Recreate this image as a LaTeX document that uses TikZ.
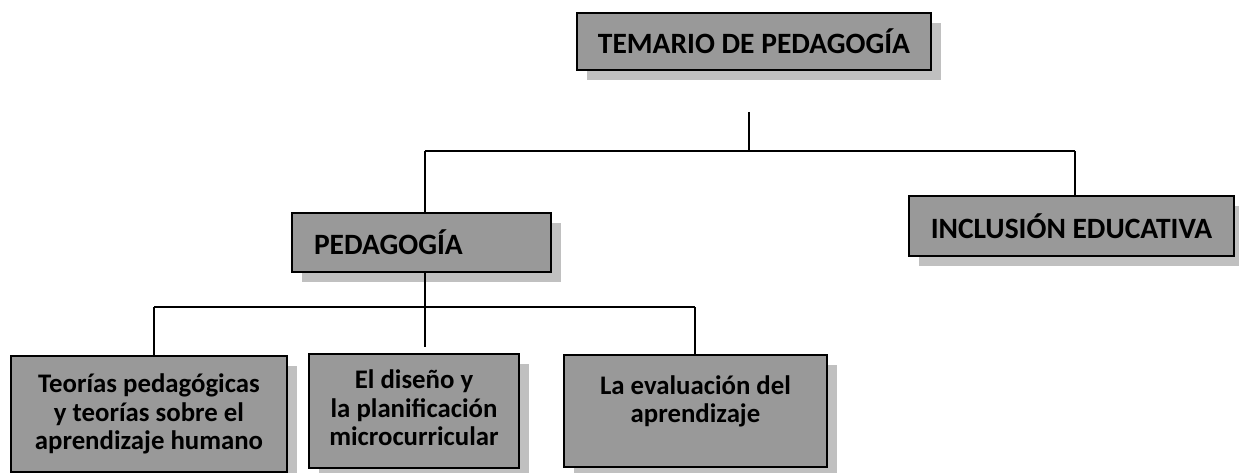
\documentclass[tikz,border=0pt]{standalone}
\usepackage{fontspec}
\setmainfont{Carlito}
\usetikzlibrary{shadows}
\definecolor{boxfill}{RGB}{153,153,153}
\definecolor{shadowgray}{RGB}{192,192,192}
\tikzset{
  box/.style={draw=black, line width=2pt, fill=boxfill, inner sep=0pt,
    general shadow={fill=shadowgray, shadow xshift=10pt, shadow yshift=-10pt},
    font=\bfseries},
  head/.style={box, font=\fontsize{29.5}{34}\selectfont\bfseries},
  leaf/.style={box, align=center, font=\fontsize{26.8}{28.5}\selectfont\bfseries},
  link/.style={draw=black, line width=2pt}
}
\begin{document}
\begin{tikzpicture}[x=1pt,y=-1pt]
\useasboundingbox (0,0) rectangle (1239,473);
\clip (0,0) rectangle (1239,473);
\fill[white] (0,0) rectangle (1239,473);

\node[head, minimum width=354pt, minimum height=57pt] (top) at (754,41.5) {TEMARIO DE PEDAGOGÍA};
\node[head, minimum height=59pt, text width=215pt, align=left, inner xsep=22pt] (ped) at (421.5,242.5) {PEDAGOGÍA};
\node[head, minimum width=325pt, minimum height=60pt] (inc) at (1071.5,226) {INCLUSIÓN EDUCATIVA};

\node[leaf, minimum width=276pt, minimum height=116pt] (b1) at (149,414) {Teorías pedagógicas\\ y teorías sobre el\\ aprendizaje humano};
\node[leaf, minimum width=210pt, minimum height=114pt] (b2) at (414,411) {El diseño y\\ la planificación\\ microcurricular\rule[-6pt]{0pt}{0pt}};
\node[leaf, minimum width=263pt, minimum height=112pt] (b3) at (695.5,411) {La evaluación del\\ aprendizaje\rule[-24pt]{0pt}{0pt}};

\coordinate (t0) at (749,112);
\coordinate (t1) at (749,151);
\coordinate (jl) at (425,151);
\coordinate (jr) at (1075,151);
\coordinate (p0) at (425,307);
\coordinate (bl) at (154,307);
\coordinate (br) at (695,307);
\coordinate (bm) at (425,347);

\draw[link] (t0) -- (t1);
\draw[link] (jl) -- (jr);
\draw[link] (jl) -- (jl |- ped.north);
\draw[link] (jr) -- (jr |- inc.north);
\draw[link] (p0 |- ped.south) -- (p0);
\draw[link] (bl) -- (br);
\draw[link] (bl) -- (bl |- b1.north);
\draw[link] (p0) -- (bm);
\draw[link] (br) -- (br |- b3.north);
\end{tikzpicture}
\end{document}
